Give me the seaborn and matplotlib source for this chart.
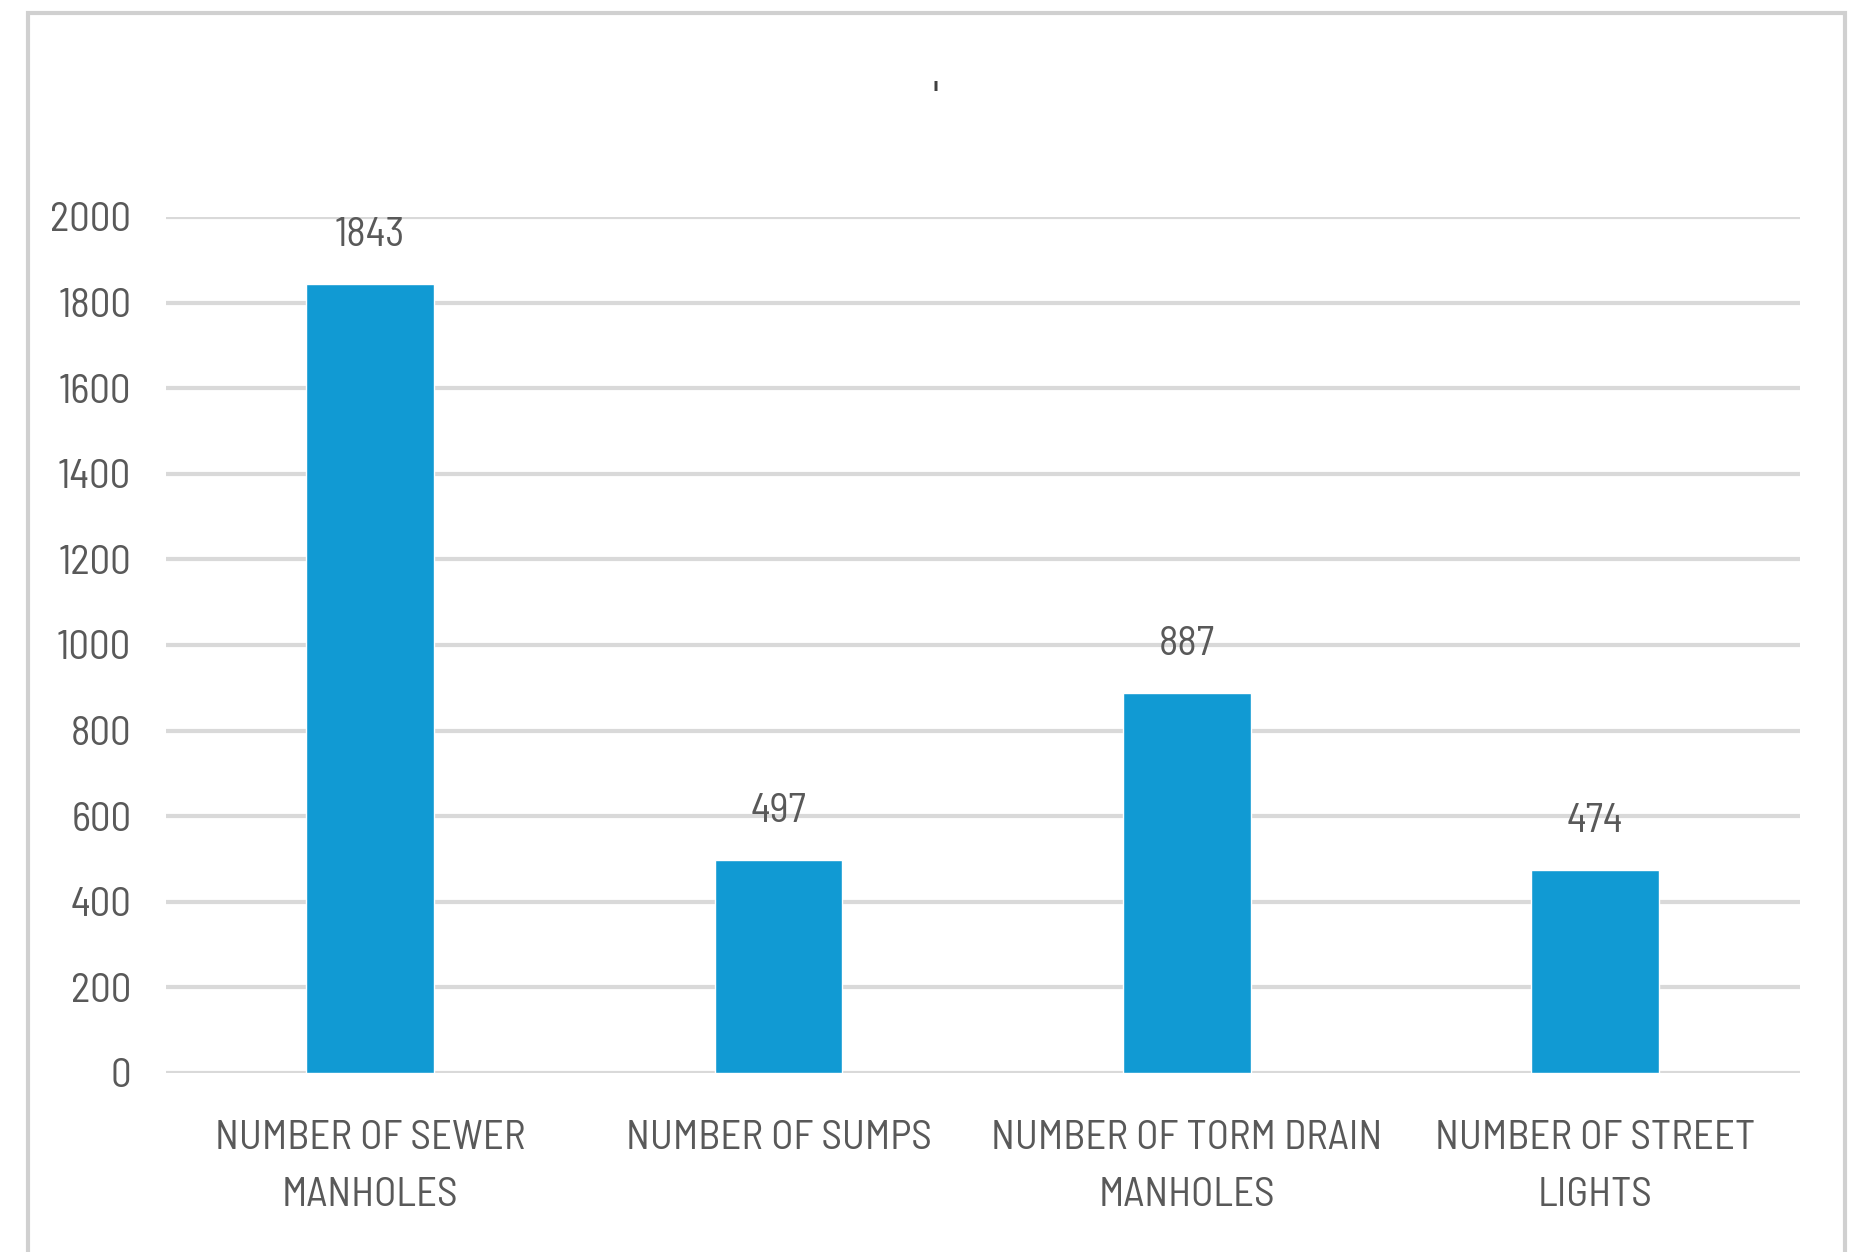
import matplotlib
matplotlib.use("Agg")
import matplotlib.pyplot as plt
from matplotlib.patches import Rectangle
import seaborn as sns
import pandas as pd

categories = [
    "NUMBER OF SEWER\nMANHOLES",
    "NUMBER OF SUMPS",
    "NUMBER OF TORM DRAIN\nMANHOLES",
    "NUMBER OF STREET\nLIGHTS",
]
counts = [1843, 497, 887, 474]
y_ticks = [0, 200, 400, 600, 800, 1000, 1200, 1400, 1600, 1800, 2000]

sns.set_theme(style="white")
plt.rcParams["font.family"] = ["Barlow Semi Condensed", "Roboto Condensed", "DejaVu Sans"]

text_color = "#595959"
grid_color = "#d9d9d9"
bar_color = "#119ad3"
fs = 29.5

fig = plt.figure(figsize=(18.59, 12.52), dpi=100)
ax = fig.add_axes([0.0893, 0.143, 0.8787, 0.6837])

df = pd.DataFrame({"category": categories, "count": counts})
sns.barplot(data=df, x="category", y="count", color=bar_color, width=0.313,
            saturation=1, ax=ax, zorder=3)

ax.set_ylim(0, 2000)
ax.set_xlim(-0.5, len(categories) - 0.5)
ax.set_yticks(y_ticks)
ax.yaxis.grid(True, color=grid_color, linewidth=3)
ax.set_axisbelow(True)
for s in ax.spines.values():
    s.set_visible(False)
ax.set_xlabel("")
ax.set_ylabel("")
ax.tick_params(axis="y", length=0, pad=25, labelsize=fs, labelcolor=text_color)
ax.tick_params(axis="x", length=0, pad=34, labelsize=fs, labelcolor=text_color)
for lab in ax.get_xticklabels():
    lab.set_linespacing(1.68)

for i, v in enumerate(counts):
    ax.annotate(str(v), (i, v), xytext=(0, 35), textcoords="offset points",
                ha="center", va="center", fontsize=fs, color=text_color)

fig.text(935 / 1859, 1 - 97 / 1252, "'", ha="center", va="center",
         fontsize=26, color="#404040", family="DejaVu Sans")

fig.patches.append(Rectangle((28 / 1859, -0.1), (1845 - 28) / 1859, 1.1 - 13 / 1252,
                             transform=fig.transFigure, fill=False,
                             edgecolor="#d0d0d0", linewidth=3))

fig.savefig("out.png", dpi=100)
